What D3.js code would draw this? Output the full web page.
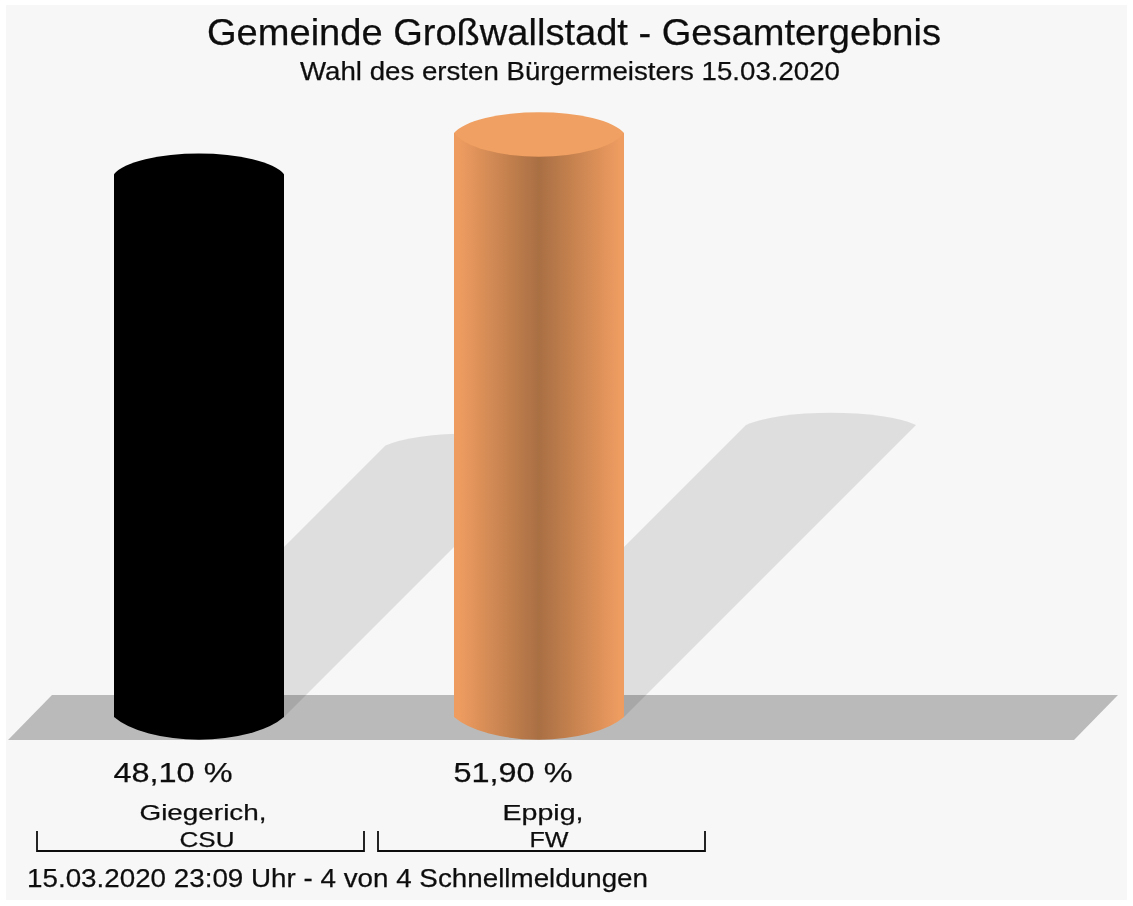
<!DOCTYPE html>
<html lang="de">
<head>
<meta charset="utf-8">
<title>Gemeinde Großwallstadt - Gesamtergebnis</title>
<script src="https://cdn.jsdelivr.net/npm/d3@7"></script>
<style>
    html, body { margin: 0; padding: 0; background: #fff; }
    svg { display: block; }
    text { font-family: "Liberation Sans", Arial, sans-serif; fill: #111; stroke: #111; stroke-width: 0.25; }
</style>
</head>
<body>
<div id="chart"></div>
<script>
const candidates = ['Giegerich,', 'Eppig,'];
const parties = ['CSU', 'FW'];
const shares = [48.10, 51.90];
const colors = ['#000000', '#f0a062'];
const shadeColors = [['#000000', '#000000'], ['#ee9c60', '#a96f43']];

const width = 1133;
const height = 906;
const floorBack = 695;
const baseY = 717;
const rx = 85;

const svg = d3.select('#chart').append('svg')
    .attr('width', width)
    .attr('height', height);

svg.append('rect')
    .attr('x', 6).attr('y', 5)
    .attr('width', width - 12).attr('height', height - 11)
    .attr('fill', '#f7f7f7');

const defs = svg.append('defs');

defs.append('filter')
    .attr('id', 'soft')
    .append('feGaussianBlur')
    .attr('stdDeviation', 0.6);

shadeColors.forEach((c, i) => {
    const grad = defs.append('linearGradient').attr('id', `side-${i}`);
    grad.append('stop').attr('offset', '3%').attr('stop-color', c[0]);
    grad.append('stop').attr('offset', '50%').attr('stop-color', c[1]);
    grad.append('stop').attr('offset', '97%').attr('stop-color', c[0]);
});

const x = d3.scaleBand()
    .domain(candidates)
    .range([29, 709]);

// zero sits on the back edge of the floor
const y = d3.scaleLinear()
    .domain([0, 51.9])
    .range([floorBack, 133]);

const data = candidates.map((name, i) => ({
    name,
    party: parties[i],
    share: shares[i],
    index: i,
    cx: x(name) + x.bandwidth() / 2,
    top: y(shares[i])
}));

const chart = svg.append('g').attr('filter', 'url(#soft)');

// floor
chart.append('path')
    .attr('d', 'M8,740 L52,695 L1118,695 L1074,740 Z')
    .attr('fill', '#bababa');

// shadows lean 45deg to the right, half the height of the bar
chart.append('g')
    .selectAll('path')
    .data(data)
    .join('path')
    .attr('fill', '#000')
    .attr('fill-opacity', 0.1)
    .attr('d', d => {
        const lift = (baseY - d.top) / 2;
        const tipY = baseY - lift;
        const l = d.cx - rx;
        const r = d.cx + rx;
        return `M${l},${baseY} L${l + lift},${tipY}
            A95,22 0 0 1 ${r + lift},${tipY}
            L${r},${baseY} Z`;
    });

// cylinder sides, the lower edge has a visible corner where it meets the side
chart.append('g')
    .selectAll('path')
    .data(data)
    .join('path')
    .attr('fill', d => `url(#side-${d.index})`)
    .attr('d', d => {
        const l = d.cx - rx;
        const r = d.cx + rx;
        return `M${l},${d.top} L${l},${baseY} A95,41 0 0 0 ${r},${baseY} L${r},${d.top} Z`;
    });

// cylinder tops
chart.append('g')
    .selectAll('path')
    .data(data)
    .join('path')
    .attr('fill', d => colors[d.index])
    .attr('d', d => {
        const l = d.cx - rx;
        const r = d.cx + rx;
        return `M${l},${d.top} A88,28 0 0 1 ${r},${d.top} A88,32 0 0 1 ${l},${d.top} Z`;
    });

// brackets under each candidate
chart.append('g')
    .selectAll('path')
    .data(data)
    .join('path')
    .attr('fill', 'none')
    .attr('stroke', '#111')
    .attr('stroke-width', 1.8)
    .attr('d', d => {
        const a = x(d.name) + (d.index ? 9 : 8);
        const b = x(d.name) + x.bandwidth() - (d.index ? 4 : 5);
        return `M${a},831 L${a},851 L${b},851 L${b},831`;
    });

const label = (txt, px, py, size, len, anchor = 'middle') => chart.append('text')
    .attr('x', px)
    .attr('y', py)
    .attr('font-size', size)
    .attr('text-anchor', anchor)
    .attr('textLength', len)
    .attr('lengthAdjust', 'spacingAndGlyphs')
    .text(txt);

label('Gemeinde Großwallstadt - Gesamtergebnis', 574, 45, 36, 734);
label('Wahl des ersten Bürgermeisters 15.03.2020', 570, 80, 26, 540);

data.forEach((d, i) => {
    label(d3.format('.2f')(d.share).replace('.', ',') + ' %', d.cx - 26, 782, 27, 119);
    label(d.name, d.cx + 4, 820, 22, i ? 81 : 127);
    label(d.party, d.cx + (i ? 10 : 8), 847, 22, i ? 39 : 55);
});

label('15.03.2020 23:09 Uhr - 4 von 4 Schnellmeldungen', 27, 887, 26, 621, 'start');
</script>
</body>
</html>
